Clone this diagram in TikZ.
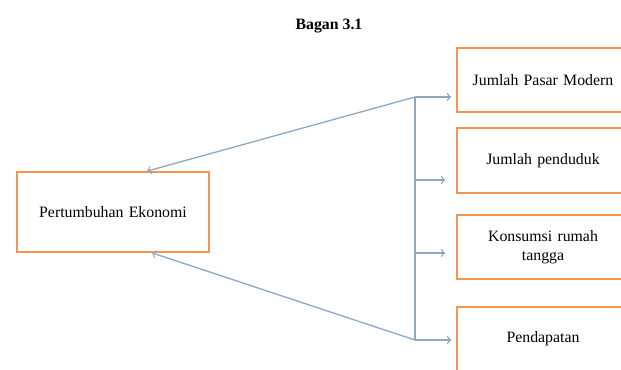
\documentclass[tikz,border=0pt]{standalone}
\usepackage{fontspec}
\setmainfont{Liberation Serif}
\usetikzlibrary{positioning}
\definecolor{boxorange}{RGB}{242,150,80}
\definecolor{arrowblue}{RGB}{140,168,196}

\begin{document}
\begin{tikzpicture}[
    every node/.style={font=\fontsize{9}{11}\selectfont},
    kotak/.style={draw=boxorange,line width=1pt,fill=white,minimum height=1.28cm,minimum width=3.4cm,text width=3.2cm,align=center},
    panah/.style={->,arrowblue,line width=0.75pt}
  ]
    \useasboundingbox (0,0) rectangle (12.42,7.38);

    % === Title ===
    \node[font=\fontsize{9}{11}\selectfont\bfseries] (judul) at (6.58,6.85) {Bagan 3.1};

    % === Left box ===
    \node[kotak,minimum width=3.84cm,minimum height=1.6cm,text width=3.6cm] (eko) at (2.26,3.14) {Pertumbuhan Ekonomi};

    % === Right column – 4 boxes ===
    \node[kotak] (pasar) at (10.86,5.78) {Jumlah Pasar Modern};
    \node[kotak,minimum height=1.3cm] (penduduk) at (10.86,4.17) {Jumlah penduduk};
    \node[kotak] (konsumsi) at (10.86,2.44) {Konsumsi rumah\\tangga};
    \node[kotak] (pendapatan) at (10.86,0.6) {Pendapatan};

    % === Branch points ===
    \coordinate (jtop) at (8.3,5.44);
    \coordinate (jbot) at (8.3,0.58);
    \coordinate (j2) at (8.3,3.78);
    \coordinate (j3) at (8.3,2.32);

    \draw[arrowblue,line width=0.75pt] (jtop) -- (jbot);
    \draw[panah,shorten >=0.1cm] (jtop) -- (pasar.west |- jtop);
    \draw[panah,shorten >=0.22cm] (j2) -- (penduduk.west |- j2);
    \draw[panah,shorten >=0.22cm] (j3) -- (konsumsi.west |- j3);
    \draw[panah,shorten >=0.1cm] (jbot) -- (pendapatan.west |- jbot);

    % === Arrows back to the left box ===
    \draw[panah] (jtop) -- ([xshift=0.68cm]eko.north);
    \draw[panah] (jbot) -- ([xshift=0.78cm]eko.south);
\end{tikzpicture}
\end{document}
